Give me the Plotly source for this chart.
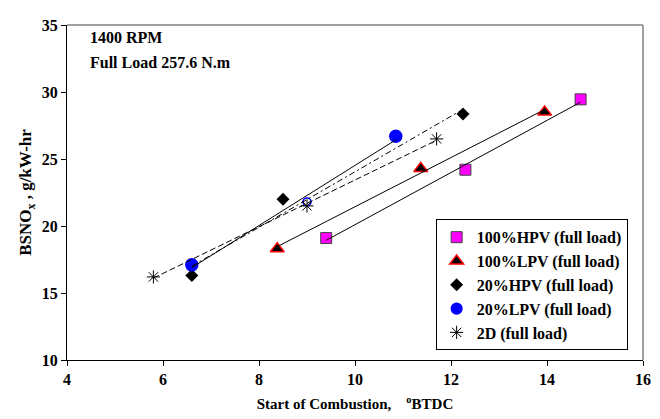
import numpy as np
import plotly.graph_objects as go

# Data
hpv100_x = [9.4, 12.3, 14.7]
hpv100_y = [19.1, 24.2, 29.45]
lpv100_x = [8.38, 11.37, 13.95]
lpv100_y = [18.3, 24.3, 28.5]
hpv20_x = [6.6, 8.5, 12.25]
hpv20_y = [16.3, 22.0, 28.35]
lpv20_x = [6.6, 9.0, 10.85]
lpv20_y = [17.1, 21.8, 26.7]
d2_x = [5.8, 9.0, 11.7]
d2_y = [16.2, 21.5, 26.5]

names = ["100%HPV (full load)", "100%LPV (full load)", "20%HPV (full load)",
         "20%LPV (full load)", "2D (full load)"]
x_ticks = [4, 6, 8, 10, 12, 14, 16]
y_ticks = [10, 15, 20, 25, 30, 35]

FONT = "Liberation Serif"

fig = go.Figure()

series = [
    (hpv100_x, hpv100_y, names[0], dict(symbol="square", size=11, color="#FF00FF",
                                        line=dict(color="#404040", width=1)), "solid"),
    (lpv100_x, lpv100_y, names[1], dict(symbol="triangle-up", size=12, color="black",
                                        line=dict(color="#FF0000", width=1.5)), "solid"),
    (hpv20_x, hpv20_y, names[2], dict(symbol="diamond", size=10, color="black",
                                      line=dict(color="black", width=0)), "6px,3px,2px,3px"),
    (lpv20_x, lpv20_y, names[3], dict(symbol=["circle", "circle-open", "circle"],
                                      size=[12, 8, 12], color="#0000FF", opacity=1,
                                      line=dict(color="#0000FF", width=1.5)), "solid"),
    (d2_x, d2_y, names[4], dict(symbol="asterisk-open", size=11, color="black",
                                line=dict(color="black", width=1)), "6px,3px"),
]

for i, (xs, ys, nm, mk, dash) in enumerate(series):
    fig.add_trace(go.Scatter(x=xs, y=ys, mode="markers", name=nm, marker=mk,
                             cliponaxis=False))

# Linear trendlines (computed from the data), drawn above the markers
for xs, ys, nm, mk, dash in series:
    k, b = np.polyfit(xs, ys, 1)
    tx = np.array([min(xs), max(xs)])
    fig.add_trace(go.Scatter(x=tx, y=k * tx + b, mode="lines", showlegend=False,
                             hoverinfo="skip",
                             line=dict(color="black", width=1, dash=dash)))

# page body has an 8px margin: figure is sized/positioned to compensate
fig.update_layout(
    width=652, height=411,
    margin=dict(l=59, r=15, t=9, b=59),
    paper_bgcolor="white", plot_bgcolor="white",
    font=dict(family=FONT, size=16, color="black"),
    showlegend=True,
    legend=dict(x=0.640, y=0.029, xanchor="left", yanchor="bottom",
                bgcolor="white", bordercolor="black", borderwidth=1,
                font=dict(family=FONT, size=16, color="black", weight="bold"),
                itemwidth=30),
    xaxis=dict(range=[4, 16], tickvals=x_ticks, ticktext=[str(v) for v in x_ticks],
               showgrid=False, zeroline=False, showline=True, linecolor="black",
               linewidth=1, ticks="outside", ticklen=5, tickcolor="black",
               tickfont=dict(family=FONT, size=16, weight="bold"),
               title=dict(text="Start of Combustion,    <sup>o</sup>BTDC",
                          font=dict(family=FONT, size=15, weight="bold"), standoff=11)),
    yaxis=dict(range=[10, 35], tickvals=y_ticks, ticktext=[str(v) for v in y_ticks],
               showgrid=False, zeroline=False, showline=True, linecolor="black",
               linewidth=1, ticks="outside", ticklen=5, tickcolor="black",
               tickfont=dict(family=FONT, size=16, weight="bold"),
               title=dict(text="BSNO<sub>x</sub> , g/kW-hr",
                          font=dict(family=FONT, size=17, weight="bold"), standoff=5)),
    shapes=[
        dict(type="line", xref="paper", yref="paper", x0=0, x1=1, y0=1, y1=1,
             line=dict(color="#A0A0A0", width=2)),
        dict(type="line", xref="paper", yref="paper", x0=1, x1=1, y0=0, y1=1,
             line=dict(color="#A0A0A0", width=2)),
    ],
    annotations=[
        dict(text="<b>1400 RPM</b>", xref="paper", yref="paper", x=0.036, y=0.962,
             xanchor="left", yanchor="middle", showarrow=False,
             font=dict(family=FONT, size=16)),
        dict(text="<b>Full Load 257.6 N.m</b>", xref="paper", yref="paper", x=0.036,
             y=0.889, xanchor="left", yanchor="middle", showarrow=False,
             font=dict(family=FONT, size=16)),
    ],
)

fig.write_html("out.html")
